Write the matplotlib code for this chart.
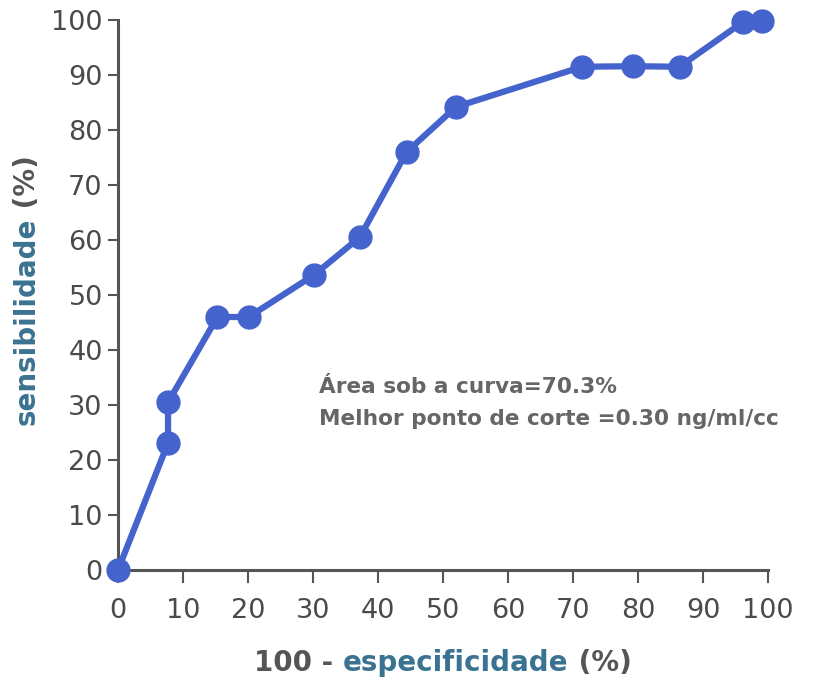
"""ROC curve: sensibilidade vs 100 - especificidade."""
import matplotlib

matplotlib.use("Agg")
import matplotlib.pyplot as plt

W, H = 814, 686

# ROC points (%)
fpr = [0, 7.7, 7.7, 15.3, 20.1, 30.1, 37.2, 44.4, 52.0, 71.4, 79.3, 86.4, 96.1, 99.1]
sens = [0, 23.1, 30.5, 46.0, 46.0, 53.6, 60.5, 76.0, 84.2, 91.5, 91.6, 91.5, 99.6, 99.8]
ticks = list(range(0, 101, 10))
notes = ["Área sob a curva=70.3%", "Melhor ponto de corte =0.30 ng/ml/cc"]

BLUE = "#4463cc"
GRAY = "#555555"
TEAL = "#3a7391"

fig = plt.figure(figsize=(W / 100, H / 100), dpi=100)
ax = fig.add_axes([118 / W, 1 - 570 / H, 650 / W, 550 / H])

ax.plot(fpr, sens, color=BLUE, lw=4.5, marker="o", ms=16.5,
        mec=BLUE, mfc=BLUE, clip_on=False, zorder=3)

ax.set_xlim(0, 100)
ax.set_ylim(0, 100)
ax.set_xticks(ticks)
ax.set_yticks(ticks)
for side in ("top", "right"):
    ax.spines[side].set_visible(False)
for side in ("left", "bottom"):
    ax.spines[side].set_color(GRAY)
    ax.spines[side].set_linewidth(2.2)
ax.tick_params(axis="y", length=7, width=1.5, color=GRAY, pad=4,
               labelsize=19.5, labelcolor="#4a4a4a")
ax.tick_params(axis="x", length=9, width=1.5, color=GRAY, pad=11,
               labelsize=19.5, labelcolor="#4a4a4a")

for i, line in enumerate(notes):
    fig.text(319 / W, 1 - (387 + 32 * i) / H, line, fontsize=15.6,
             fontweight="bold", color="#666666", va="center")

# axis titles in mixed colours, pieces laid out one after another
fig.canvas.draw()
renderer = fig.canvas.get_renderer()


def place_parts(parts, cx, cy, rotation=0):
    objs = [fig.text(0, 0, s, color=c, fontsize=20, fontweight="bold",
                     rotation=rotation, ha="left", va="center",
                     rotation_mode="anchor") for s, c in parts]
    bbs = [t.get_window_extent(renderer) for t in objs]
    if rotation:
        sizes = [bb.height for bb in bbs]
        pos = cy + sum(sizes) / 2  # starts at the bottom, runs upward
        for t, s in zip(objs, sizes):
            t.set_position((cx / W, 1 - pos / H))
            pos -= s
    else:
        sizes = [bb.width for bb in bbs]
        pos = cx - sum(sizes) / 2
        for t, s in zip(objs, sizes):
            t.set_position((pos / W, 1 - cy / H))
            pos += s


place_parts([("100 - ", GRAY), ("especificidade", TEAL), (" (%)", GRAY)], 443, 663)
place_parts([("sensibilidade", TEAL), (" (%)", GRAY)], 27, 290, rotation=90)

fig.savefig("out.png", dpi=100)
